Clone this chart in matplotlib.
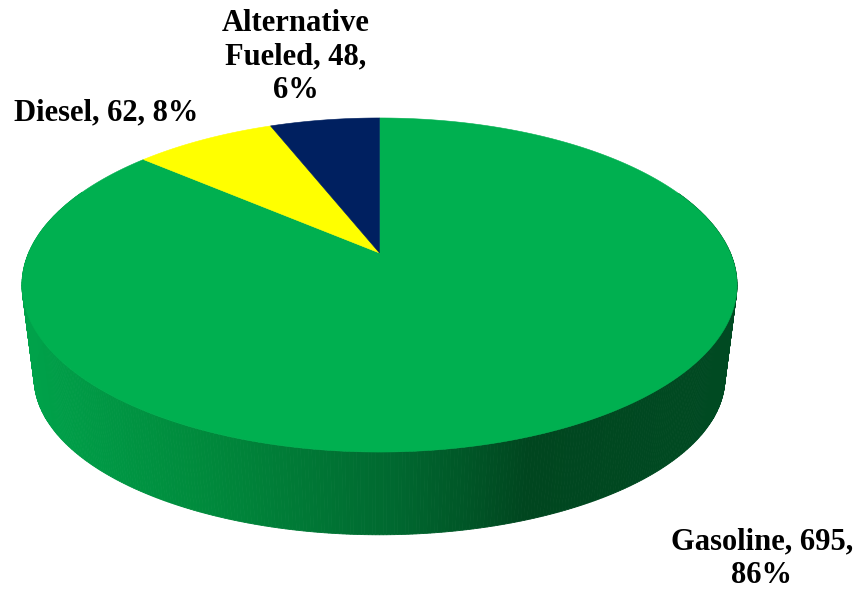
import numpy as np
import matplotlib.pyplot as plt
from matplotlib.patches import Polygon
from matplotlib.colors import LinearSegmentedColormap

# data
categorias = ["Gasoline", "Diesel", "Alternative\nFueled"]
valores = [695, 62, 48]
cores = ["#00B050", "#FFFF00", "#002060"]

# geometria do pie 3D (pixels da figura)
CX = 379.5
K = -0.1916                # perspectiva
TOPO = dict(cy=253.0, a=350.9, b=160.9)
BASE = dict(cy=348.0, a=339.0, b=151.0)


def projetar(theta, p):
    u = np.sin(theta)
    v = -np.cos(theta)
    d = 1 + K * v
    return CX + p["a"] * u / d, p["cy"] + p["b"] * v / d


lateral = LinearSegmentedColormap.from_list(
    "lateral",
    [(0.0, "#00a24a"), (0.25, "#008a3c"), (0.53, "#00672f"),
     (0.71, "#00461f"), (1.0, "#004a22")]
)

fig = plt.figure(figsize=(8.61, 5.92), dpi=100)
ax = fig.add_axes([0, 0, 1, 1])
ax.set_xlim(0, 861)
ax.set_ylim(592, 0)
ax.axis("off")

total = sum(valores)
fracs = np.array(valores) / total
limites = np.concatenate([[0], np.cumsum(fracs)]) * 2 * np.pi

# lateral (parede do cilindro)
th = np.linspace(0, 2 * np.pi, 721)
xt, yt = projetar(th, TOPO)
xb, yb = projetar(th, BASE)
xmin, xmax = xt.min(), xt.max()
for i in range(len(th) - 1):
    if -np.cos(th[i]) < -0.4:
        continue
    quad = [(xt[i], yt[i]), (xt[i + 1], yt[i + 1]),
            (xb[i + 1], yb[i + 1]), (xb[i], yb[i])]
    c = lateral((0.5 * (xt[i] + xt[i + 1]) - xmin) / (xmax - xmin))
    ax.add_patch(Polygon(quad, closed=True, facecolor=c, edgecolor=c, lw=0.6))

# topo das fatias
for ini, fim, cor in zip(limites[:-1], limites[1:], cores):
    t = np.linspace(ini, fim, max(int((fim - ini) / (2 * np.pi) * 720), 4))
    px, py = projetar(t, TOPO)
    pts = [(CX, TOPO["cy"])] + list(zip(px, py))
    ax.add_patch(Polygon(pts, closed=True, facecolor=cor, edgecolor=cor, lw=0.4))

# rótulos
fonte = dict(family="Liberation Serif", fontweight="bold", fontsize=22,
             color="black", ha="center", va="center", linespacing=1.22)
rotulos = [f"{c}, {v},\n{p:.0%}" for c, v, p in zip(categorias, valores, fracs)]
rotulos[1] = f"{categorias[1]}, {valores[1]}, {fracs[1]:.0%}"
ax.text(762, 559, rotulos[0], **fonte)
ax.text(106, 113, rotulos[1], **fonte)
ax.text(296, 57, rotulos[2], **fonte)

fig.savefig("out.png", dpi=100)
